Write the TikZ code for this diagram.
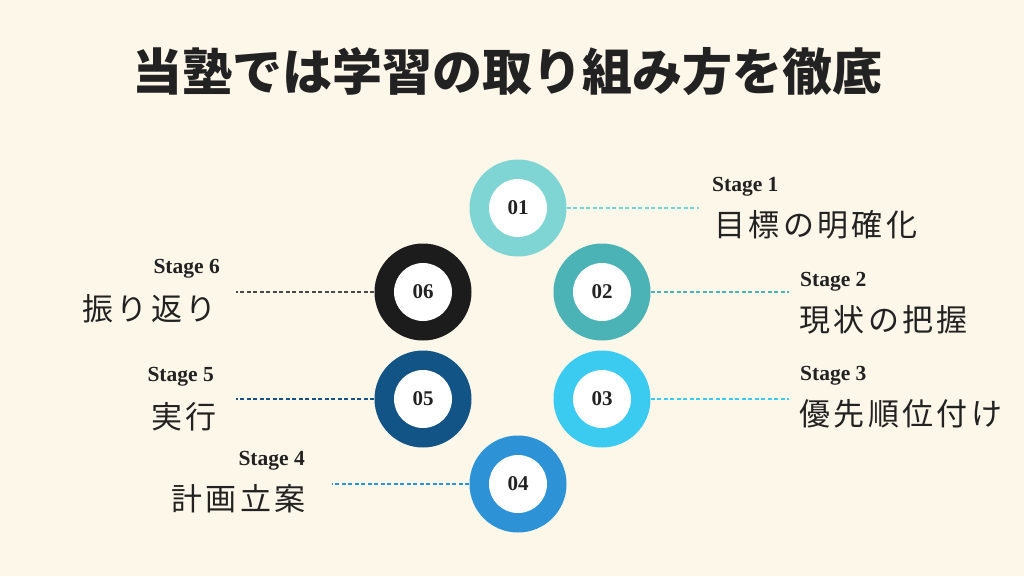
\documentclass[tikz,border=0pt]{standalone}
\usepackage{fontspec}
\newfontfamily\jp[LetterSpace=11]{Noto Sans CJK JP}
\newfontfamily\jptitle{Noto Sans CJK JP}
\newfontfamily\serifb{Liberation Serif}
\definecolor{bg}{HTML}{FDF7EA}
\definecolor{ink}{HTML}{222222}
\definecolor{cA}{HTML}{7ED5D3}
\definecolor{cB}{HTML}{4BB2B6}
\definecolor{cC}{HTML}{3BCBF0}
\definecolor{cD}{HTML}{2E92D6}
\definecolor{cE}{HTML}{135487}
\definecolor{cF}{HTML}{1C1C1C}
\tikzset{
  ring/.style={circle, fill=#1, minimum size=97pt, inner sep=0pt},
  hole/.style={circle, fill=white, minimum size=58pt, inner sep=0pt, text=ink, font=\fontsize{21}{21}\selectfont\serifb\bfseries},
  lead/.style={draw=#1, dashed, dash pattern=on 4pt off 2.5pt, line width=1.4pt},
  stagelbl/.style={inner sep=0pt, text=ink, font=\fontsize{21.5}{21.5}\selectfont\serifb\bfseries},
  jplbl/.style={inner sep=0pt, text=ink, font=\fontsize{31}{31}\selectfont\jp},
}
\begin{document}
\begin{tikzpicture}[x=1pt,y=-1pt]
\fill[bg] (0,0) rectangle (1024,576);
\useasboundingbox (0,0) rectangle (1024,576);

\node[inner sep=0pt, text=ink, font=\fontsize{50}{50}\selectfont\jptitle\bfseries] (title) at (507,72) {当塾では学習の取り組み方を徹底};

% circles
\node[ring=cA] (n1) at (518,208) {};
\node[hole] (h1) at (n1) {01};
\node[ring=cB] (n2) at (602,292) {};
\node[hole] (h2) at (n2) {02};
\node[ring=cC] (n3) at (602,399) {};
\node[hole] (h3) at (n3) {03};
\node[ring=cD] (n4) at (518,484) {};
\node[hole] (h4) at (n4) {04};
\node[ring=cE] (n5) at (423,399) {};
\node[hole] (h5) at (n5) {05};
\node[ring=cF] (n6) at (423,292) {};
\node[hole] (h6) at (n6) {06};

% leader ends
\coordinate (e1) at (699,208);
\coordinate (e2) at (789,292);
\coordinate (e3) at (789,399);
\coordinate (e4) at (332,484);
\coordinate (e5) at (236,399);
\coordinate (e6) at (236,292);

\draw[lead=cA!85!cC] (n1.east) -- (e1);
\draw[lead=cB] (n2.east) -- (e2);
\draw[lead=cC] (n3.east) -- (e3);
\draw[lead=cD] (n4.west) -- (e4);
\draw[lead=cE] (n5.west) -- (e5);
\draw[lead=cF!80!white] (n6.west) -- (e6);

% labels right
\node[stagelbl, anchor=base west] (s1) at (712,191) {Stage 1};
\node[jplbl, anchor=base west] (t1) at (714,236) {目標の明確化};
\node[stagelbl, anchor=base west] (s2) at (800,286) {Stage 2};
\node[jplbl, anchor=base west] (t2) at (799,331) {現状の把握};
\node[stagelbl, anchor=base west] (s3) at (800,380) {Stage 3};
\node[jplbl, anchor=base west] (t3) at (799,425) {優先順位付け};

% labels left
\node[stagelbl, anchor=base east] (s6) at (220,273) {Stage 6};
\node[jplbl, anchor=base east] (t6) at (217,320) {振り返り};
\node[stagelbl, anchor=base east] (s5) at (214,381) {Stage 5};
\node[jplbl, anchor=base east] (t5) at (217,428) {実行};
\node[stagelbl, anchor=base east] (s4) at (305,465) {Stage 4};
\node[jplbl, anchor=base east] (t4) at (306,510) {計画立案};
\end{tikzpicture}
\end{document}
